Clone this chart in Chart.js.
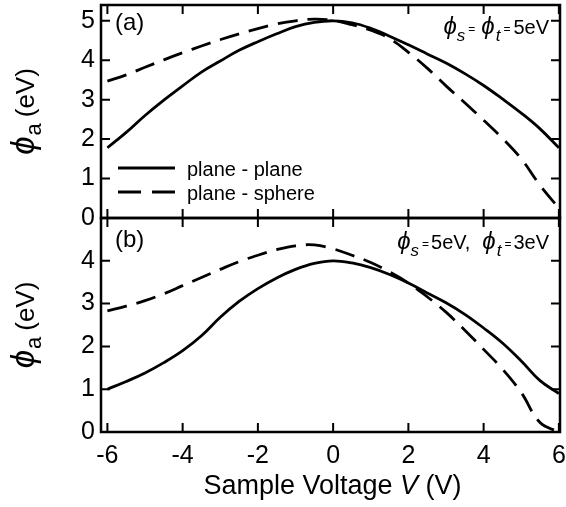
<!DOCTYPE html>
<html>
<head>
<meta charset="utf-8">
<title>Sample voltage vs phi_a</title>
<script src="https://cdn.jsdelivr.net/npm/chart.js@4.4.0/dist/chart.umd.min.js"></script>
<style>
html, body { margin: 0; padding: 0; background: #fff; }
#wrap { position: relative; width: 566px; height: 507px; overflow: hidden; }
#wrap canvas { position: absolute; left: 0; }
</style>
</head>
<body>
<div id="wrap">
  <canvas id="chartA" width="566" height="240" style="top:0px"></canvas>
  <canvas id="chartB" width="566" height="297" style="top:210px"></canvas>
</div>
<script>
// sample voltage V (V)
var voltage = [-6, -5.5, -5, -4.5, -4, -3.5, -3, -2.5, -2, -1.5, -1, -0.5, 0,
               0.5, 1, 1.5, 2, 2.5, 3, 3.5, 4, 4.5, 5, 5.5, 6];

// (a) phi_s = phi_t = 5 eV
var planePlaneA  = [1.78, 2.17, 2.6, 2.99, 3.35, 3.7, 3.98, 4.25, 4.47, 4.67, 4.85, 4.96, 5.0,
                    4.95, 4.81, 4.61, 4.39, 4.16, 3.93, 3.66, 3.36, 3.02, 2.66, 2.26, 1.78];
var planeSphereA = [3.47, 3.63, 3.82, 4.01, 4.19, 4.36, 4.52, 4.67, 4.8, 4.92, 5.0, 5.04, 5.01,
                    4.9, 4.76, 4.55, 4.2, 3.8, 3.35, 2.92, 2.48, 2.02, 1.5, 0.83, 0.25];

// (b) phi_s = 5 eV, phi_t = 3 eV
var planePlaneB  = [1.0, 1.18, 1.38, 1.62, 1.9, 2.25, 2.68, 3.05, 3.35, 3.6, 3.8, 3.94, 4.0,
                    3.95, 3.84, 3.68, 3.48, 3.25, 3.02, 2.75, 2.43, 2.08, 1.66, 1.2, 0.9];
var planeSphereB = [2.83, 2.94, 3.07, 3.23, 3.42, 3.61, 3.8, 3.98, 4.13, 4.26, 4.35, 4.37, 4.28,
                    4.13, 3.96, 3.74, 3.48, 3.16, 2.8, 2.38, 1.93, 1.47, 0.92, 0.22, 0.0];

var xTicks = [-6, -4, -2, 0, 2, 4, 6];
var yTicksA = [0, 1, 2, 3, 4, 5];
var yTicksB = [0, 1, 2, 3, 4];
var legendLabels = ['plane - plane', 'plane - sphere'];

var FONT = "'Liberation Sans', Arial, Helvetica, sans-serif";
var TICK = 9;
var DASH = [20, 10];

function points(ys) {
    return voltage.map(function (v, i) { return { x: v, y: ys[i] }; });
}

// draw a run of text pieces: [text, size, italic, dy, gapBefore]
function drawRun(ctx, parts, x, y) {
    var cx = x;
    parts.forEach(function (p) {
        ctx.font = (p[2] ? 'italic ' : '') + p[1] + 'px ' + FONT;
        cx += p[4] || 0;
        ctx.fillText(p[0], cx, y + (p[3] || 0));
        cx += ctx.measureText(p[0]).width;
    });
    return cx;
}
function runWidth(ctx, parts) {
    var w = 0;
    parts.forEach(function (p) {
        ctx.font = (p[2] ? 'italic ' : '') + p[1] + 'px ' + FONT;
        w += (p[4] || 0) + ctx.measureText(p[0]).width;
    });
    return w;
}

var panelPlugin = {
    id: 'panel',
    afterDraw: function (chart, args, opts) {
        var ctx = chart.ctx, a = chart.chartArea;
        var xs = chart.scales.x, ys = chart.scales.y;
        ctx.save();
        ctx.strokeStyle = '#000';
        ctx.fillStyle = '#000';
        ctx.lineWidth = 2.5;
        ctx.strokeRect(a.left, a.top, a.right - a.left, a.bottom - a.top);
        ctx.lineWidth = 2;
        ctx.beginPath();
        xTicks.forEach(function (v) {
            var px = xs.getPixelForValue(v);
            ctx.moveTo(px, a.bottom); ctx.lineTo(px, a.bottom - TICK);
            ctx.moveTo(px, a.top); ctx.lineTo(px, a.top + TICK);
        });
        opts.yTicks.forEach(function (v) {
            var py = ys.getPixelForValue(v);
            ctx.moveTo(a.left, py); ctx.lineTo(a.left + TICK, py);
            ctx.moveTo(a.right, py); ctx.lineTo(a.right - TICK, py);
        });
        ctx.stroke();

        ctx.textBaseline = 'alphabetic';
        ctx.textAlign = 'left';
        // panel letter
        ctx.font = '24px ' + FONT;
        ctx.fillText(opts.letter, a.left + 14, a.top + opts.letterDy);

        // parameter note, right aligned
        var w = runWidth(ctx, opts.note);
        drawRun(ctx, opts.note, a.right - 11 - w, a.top + opts.noteDy);

        // y title, rotated
        var title = [['\u03d5', 33, true, 0], ['a', 22, false, 7, 1], ['(eV)', 26, false, 0, 6]];
        ctx.save();
        ctx.translate(34, (a.top + a.bottom) / 2);
        ctx.rotate(-Math.PI / 2);
        drawRun(ctx, title, -runWidth(ctx, title) / 2, 0);
        ctx.restore();

        if (opts.legend) {
            var lx = a.left + 17, ly = a.bottom - 50;
            ctx.lineWidth = 2.8;
            ctx.beginPath();
            ctx.moveTo(lx, ly); ctx.lineTo(lx + 57, ly);
            ctx.stroke();
            ctx.setLineDash([23, 11]);
            ctx.beginPath();
            ctx.moveTo(lx, ly + 24); ctx.lineTo(lx + 57, ly + 24);
            ctx.stroke();
            ctx.setLineDash([]);
            ctx.font = '20px ' + FONT;
            ctx.fillText(legendLabels[0], lx + 69, ly + 8);
            ctx.fillText(legendLabels[1], lx + 69, ly + 32);
        }

        if (opts.xTitle) {
            var xt = [['Sample Voltage ', 27, false], ['V', 27, true], [' (V)', 27, false]];
            drawRun(ctx, xt, (a.left + a.right) / 2 + 2 - runWidth(ctx, xt) / 2, a.bottom + 62);
        }
        ctx.restore();
    }
};

function makeChart(id, solid, dashed, yMax, yTicks, pad, showX, panel) {
    return new Chart(document.getElementById(id), {
        type: 'line',
        data: {
            datasets: [{
                label: legendLabels[0],
                data: points(solid),
                borderColor: '#000',
                borderWidth: 2.8,
                pointRadius: 0,
                tension: 0.4
            }, {
                label: legendLabels[1],
                data: points(dashed),
                borderColor: '#000',
                borderWidth: 2.8,
                borderDash: DASH,
                pointRadius: 0,
                tension: 0.4
            }]
        },
        options: {
            responsive: false,
            animation: false,
            devicePixelRatio: 1,
            layout: { padding: pad },
            plugins: {
                legend: { display: false },
                tooltip: { enabled: false },
                panel: panel
            },
            scales: {
                x: {
                    type: 'linear',
                    min: -6.17,
                    max: 6.03,
                    display: showX,
                    grid: { display: false, drawTicks: false },
                    border: { display: false },
                    afterBuildTicks: function (s) { s.ticks = xTicks.map(function (v) { return { value: v }; }); },
                    afterFit: function (s) { s.height = showX ? 75 : 0; s.paddingLeft = 0; s.paddingRight = 0; },
                    ticks: { color: '#000', font: { family: FONT, size: 25 }, padding: 9, maxRotation: 0, autoSkip: false }
                },
                y: {
                    min: 0,
                    max: yMax,
                    grid: { display: false, drawTicks: false },
                    border: { display: false },
                    afterBuildTicks: function (s) { s.ticks = yTicks.map(function (v) { return { value: v }; }); },
                    afterFit: function (s) { s.width = 101; s.paddingTop = 0; s.paddingBottom = 0; },
                    ticks: { color: '#000', font: { family: FONT, size: 25 }, padding: 6, autoSkip: false }
                }
            }
        },
        plugins: [panelPlugin]
    });
}

makeChart('chartA', planePlaneA, planeSphereA, 5.4, yTicksA,
    { top: 5, right: 6, bottom: 22, left: 0 }, false,
    {
        yTicks: yTicksA, letter: '(a)', letterDy: 25, legend: true, xTitle: false, noteDy: 29,
        note: [['\u03d5', 24, true, 0], ['s', 17, true, 7], ['=', 12, false, -1, 3],
               ['\u03d5', 24, true, 0, 6], ['t', 17, true, 7, 1], ['=', 12, false, -1, 3],
               ['5eV', 20, false, 0, 3]]
    });

makeChart('chartB', planePlaneB, planeSphereB, 5.0, yTicksB,
    { top: 8, right: 6, bottom: 0, left: 0 }, true,
    {
        yTicks: yTicksB, letter: '(b)', letterDy: 29, legend: false, xTitle: true, noteDy: 31,
        note: [['\u03d5', 24, true, 0], ['s', 17, true, 7], ['=', 12, false, -1, 3],
               ['5eV,', 20, false, 0, 2], ['\u03d5', 24, true, 0, 12], ['t', 17, true, 7, 1],
               ['=', 12, false, -1, 3], ['3eV', 20, false, 0, 2]]
    });
</script>
</body>
</html>
